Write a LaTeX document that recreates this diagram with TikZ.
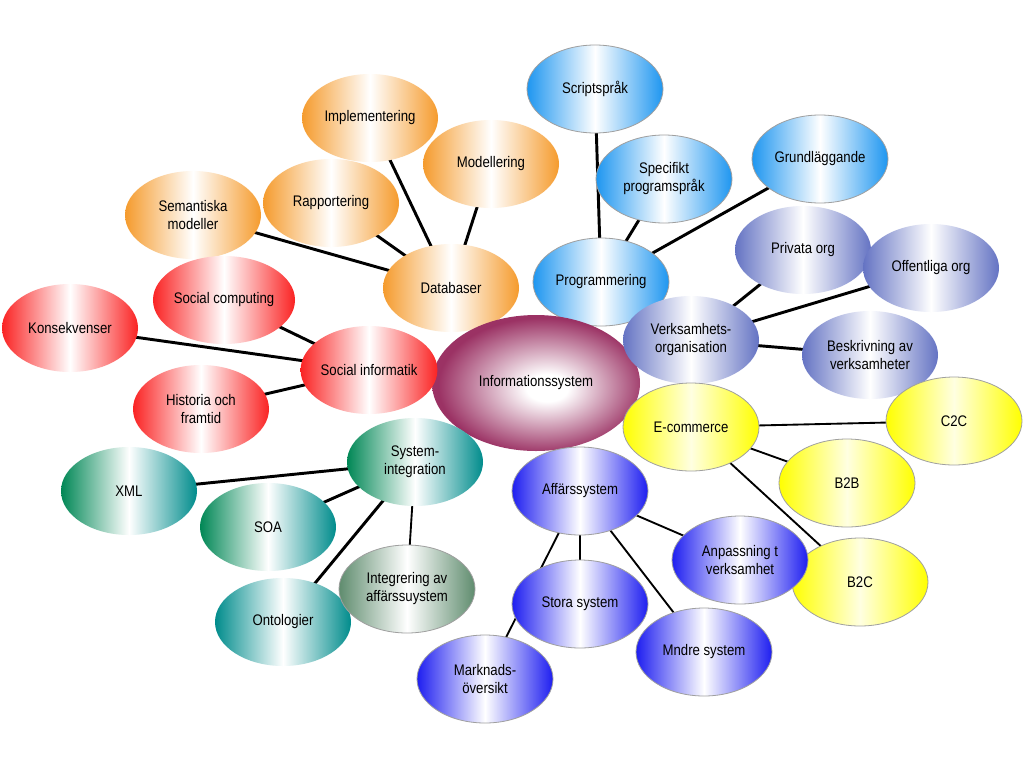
\documentclass[tikz,border=0pt]{standalone}
\usepackage{fontspec}
\setmainfont{Liberation Sans}[FakeStretch=0.86]
\usetikzlibrary{shapes.geometric}
\pgfdeclarelayer{back}
\pgfdeclarelayer{bg}
\pgfsetlayers{back,bg,main}
\definecolor{cOrange}{RGB}{245,155,45}
\definecolor{cRed}{RGB}{250,35,35}
\definecolor{cLBlue}{RGB}{30,150,240}
\definecolor{cSlate}{RGB}{100,115,195}
\definecolor{cYellow}{RGB}{255,255,0}
\definecolor{cYellowMid}{RGB}{255,255,225}
\definecolor{cBlue}{RGB}{30,30,240}
\definecolor{cGreen}{RGB}{0,135,85}
\definecolor{cTeal}{RGB}{0,140,140}
\definecolor{cGrayGreen}{RGB}{95,140,110}
\definecolor{cMaroon}{RGB}{155,50,100}
\pgfdeclareradialshading{infoshade}{\pgfpoint{3bp}{-2bp}}{color(0bp)=(white); color(5bp)=(white); color(25bp)=(cMaroon); color(50bp)=(cMaroon)}
\tikzset{
  bub/.style={ellipse, minimum width=102pt, minimum height=66pt, inner sep=0pt, align=center,
    font=\fontsize{11.5}{13.5}\selectfont, text=black},
  outl/.style={draw=gray!75, line width=0.6pt},
  orangeb/.style={bub, left color=cOrange, right color=cOrange, middle color=white},
  redb/.style={bub, left color=cRed, right color=cRed, middle color=white},
  lblueb/.style={bub, outl, left color=cLBlue, right color=cLBlue, middle color=white},
  slateb/.style={bub, left color=cSlate, right color=cSlate, middle color=white},
  yellowb/.style={bub, outl, left color=cYellow, right color=cYellow, middle color=cYellowMid},
  blueb/.style={bub, outl, left color=cBlue, right color=cBlue, middle color=white},
  tealb/.style={bub, left color=cGreen, right color=cTeal, middle color=white},
  ontob/.style={bub, left color=cTeal, right color=cTeal, middle color=white},
  integb/.style={bub, outl, left color=cGrayGreen, right color=cGrayGreen, middle color=white},
  infob/.style={bub, minimum width=156pt, minimum height=102pt, shading=infoshade},
  conn/.style={line width=2.2pt, black},
  thinconn/.style={line width=1.4pt, black}
}
\begin{document}
\begin{tikzpicture}[x=0.75pt,y=-0.75pt]
\begin{pgfonlayer}{back}
\fill[white] (0,0) rectangle (1024,768);
\end{pgfonlayer}
\useasboundingbox (0,0) rectangle (1024,768);
% orange
\node[orangeb] (impl) at (370,118) {Implementering};
\node[orangeb] (model) at (491,164) {Modellering};
\node[orangeb] (rapp) at (331,203) {Rapportering};
\node[orangeb] (sem) at (193,215) {Semantiska\\modeller};
\node[orangeb] (db) at (451,288) {Databaser};
% light blue
\node[lblueb] (script) at (595,89) {Scriptspråk};
\node[lblueb] (spec) at (664,179) {Specifikt\\programspråk};
\node[lblueb] (grund) at (820,159) {Grundläggande};
\node[lblueb] (prog) at (601,282) {Programmering};
% center
\node[infob] (info) at (536,383) {Informationssystem};
% red
\node[redb] (soccomp) at (224,300) {Social computing};
\node[redb] (kons) at (70,328) {Konsekvenser};
\node[redb] (hist) at (201,409) {Historia och\\framtid};
\node[redb] (socinf) at (369,370) {Social informatik};
% slate
\node[slateb] (priv) at (803,250) {Privata org};
\node[slateb] (off) at (931,268) {Offentliga org};
\node[slateb] (verk) at (691,340) {Verksamhets-\\organisation};
\node[slateb] (besk) at (870,355) {Beskrivning av\\verksamheter};
% yellow
\node[yellowb] (ecom) at (691,427) {E-commerce};
\node[yellowb] (b2b) at (847,483) {B2B};
\node[yellowb] (c2c) at (954,421) {C2C};
\node[yellowb] (b2c) at (860,582) {B2C};
% blue
\node[blueb] (aff) at (580,491) {Affärssystem};
\node[blueb] (anp) at (740,560) {Anpassning t\\verksamhet};
\node[blueb] (stora) at (580,604) {Stora system};
\node[blueb] (mndre) at (704,652) {Mndre system};
\node[blueb] (mark) at (485,679) {Marknads-\\översikt};
% teal
\node[tealb] (xml) at (129,491) {XML};
\node[tealb] (soa) at (268,527) {SOA};
\node[ontob] (onto) at (283,622) {Ontologier};
\node[tealb] (sysint) at (415,462) {System-\\integration};
\node[integb] (integ) at (407,589) {Integrering av\\affärssuystem};
% connectors
\begin{pgfonlayer}{bg}
\draw[conn] (impl.center) -- (db.center);
\draw[conn] (model.center) -- (db.center);
\draw[conn] (rapp.center) -- (db.center);
\draw[conn] (sem.center) -- (db.center);
\draw[conn] (script.center) -- (prog.center);
\draw[conn] (spec.center) -- (prog.center);
\draw[conn] (grund.center) -- (prog.center);
\draw[conn] (soccomp.center) -- (socinf.center);
\draw[conn] (kons.center) -- (socinf.center);
\draw[conn] (hist.center) -- (socinf.center);
\draw[conn] (priv.center) -- (verk.center);
\draw[conn] (off.center) -- (verk.center);
\draw[conn] (besk.center) -- (verk.center);
\draw[thinconn] (ecom.center) -- (c2c.center);
\draw[thinconn] (ecom.center) -- (b2b.center);
\draw[thinconn] (ecom.center) -- (b2c.center);
\draw[thinconn] (aff.center) -- (anp.center);
\draw[thinconn] (aff.center) -- (stora.center);
\draw[thinconn] (aff.center) -- (mndre.center);
\draw[thinconn] (aff.center) -- (mark.center);
\draw[conn] (sysint.center) -- (xml.center);
\draw[conn] (sysint.center) -- (soa.center);
\draw[conn] (sysint.center) -- (onto.center);
\draw[thinconn] (sysint.center) -- (integ.center);
\end{pgfonlayer}
\end{tikzpicture}
\end{document}
